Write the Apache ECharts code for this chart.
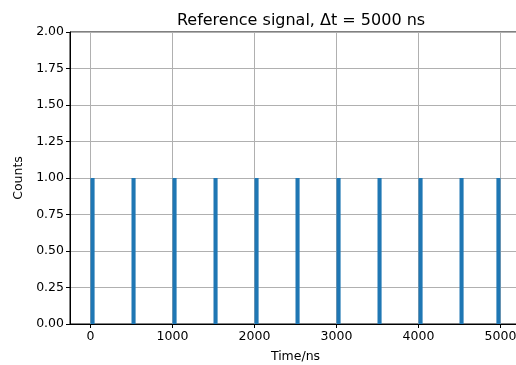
<!DOCTYPE html>
<html>
<head>
<meta charset="utf-8">
<script src="https://cdn.jsdelivr.net/npm/echarts@6/dist/echarts.min.js"></script>
<style>
  html, body { margin: 0; padding: 0; background: #fff; }
  #charts { width: 516px; height: 365px; }
</style>
</head>
<body>
<div id="charts"></div>
<script>
// histogram bins (left edge, ns) that hold one count each
var binStarts = [0, 500, 1000, 1500, 2000, 2500, 3000, 3500, 4000, 4500, 4950];
var counts = [1, 1, 1, 1, 1, 1, 1, 1, 1, 1, 1];
var binWidth = 50;
var yTicks = [0, 0.25, 0.5, 0.75, 1, 1.25, 1.5, 1.75, 2];

function initECharts(myChart) {
    var font = 'DejaVu Sans';
    var data = binStarts.map(function (s, i) { return [s, counts[i]]; });

    var option = {
        animation: false,
        title: {
            text: 'Reference signal, \u0394t = 5000 ns',
            left: 296,
            top: 8,
            textAlign: 'center',
            textStyle: { fontFamily: font, fontSize: 16, fontWeight: 'normal', color: '#000' }
        },
        grid: {
            left: 70, right: -5, top: 32, bottom: 41,
            outerBoundsMode: 'none',
            containLabel: false,
            show: true, borderColor: '#000', borderWidth: 1
        },
        xAxis: {
            type: 'value',
            min: -250,
            max: 5250,
            name: 'Time/ns',
            nameLocation: 'middle',
            nameGap: 26,
            nameTextStyle: { fontFamily: font, fontSize: 12.5, color: '#000' },
            axisLine: { show: true, onZero: false, lineStyle: { color: '#000' } },
            axisTick: { show: true, length: 4, lineStyle: { color: '#000' } },
            axisLabel: { fontFamily: font, fontSize: 12.5, color: '#000', margin: 6,
                showMinLabel: false, showMaxLabel: false,
                formatter: function (v) { return String(v); } },
            splitLine: { show: true, showMinLine: false, showMaxLine: false,
                lineStyle: { color: '#b0b0b0', width: 1 } }
        },
        yAxis: {
            type: 'value',
            min: yTicks[0],
            max: yTicks[yTicks.length - 1],
            interval: 0.25,
            name: 'Counts',
            nameLocation: 'middle',
            nameGap: 44,
            nameTextStyle: { fontFamily: font, fontSize: 12.5, color: '#000' },
            axisLine: { show: true, onZero: false, lineStyle: { color: '#000' } },
            axisTick: { show: true, length: 4, lineStyle: { color: '#000' } },
            axisLabel: {
                fontFamily: font, fontSize: 12.5, color: '#000', margin: 6,
                formatter: function (v) { return v.toFixed(2); }
            },
            splitLine: { show: true, lineStyle: { color: '#b0b0b0', width: 1 } }
        },
        series: [{
            type: 'custom',
            data: data,
            clip: true,
            renderItem: function (params, api) {
                var x0 = api.value(0);
                var p0 = api.coord([x0, api.value(1)]);
                var p1 = api.coord([x0 + binWidth, 0]);
                return {
                    type: 'rect',
                    shape: { x: p0[0], y: p0[1], width: p1[0] - p0[0], height: p1[1] - p0[1] },
                    style: { fill: '#1f77b4' }
                };
            }
        }]
    };

    myChart.setOption(option);
}

window.onload = function () {
    var myChart = echarts.init(document.getElementById('charts'));
    initECharts(myChart);
};
</script>
</body>
</html>
